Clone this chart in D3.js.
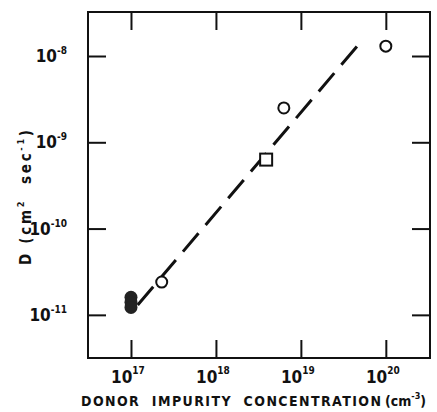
<!DOCTYPE html>
<html>
<head>
<meta charset="utf-8">
<script src="https://cdn.jsdelivr.net/npm/d3@7"></script>
<style>
  body { margin: 0; background: #fff; }
  svg { display: block; }
  text { font-family: "DejaVu Sans Condensed", "Liberation Sans", sans-serif; font-weight: bold; fill: #111; }
</style>
</head>
<body>
<div id="chart"></div>
<script>
// Data (log-log axes).
const xTickExps = [17, 18, 19, 20];
const yTickExps = [-8, -9, -10, -11];

const openCircles = [
  { n: 2.3e17, d: 2.4e-11 },
  { n: 6.3e18, d: 2.5e-9 },
  { n: 1.0e20, d: 1.3e-8 }
];
const filledCircles = [
  { n: 1.0e17, d: 1.6e-11 },
  { n: 1.0e17, d: 1.4e-11 },
  { n: 1.0e17, d: 1.22e-11 }
];
const squares = [
  { n: 3.9e18, d: 6.3e-10 }
];
// Dashed fit line end points.
const fitLine = [
  { n: 1.2e17, d: 1.3e-11 },
  { n: 5.1e19, d: 1.47e-8 }
];

const W = 437, H = 412;
const margin = { left: 88, top: 12, right: 7, bottom: 54 };
const iw = W - margin.left - margin.right;
const ih = H - margin.top - margin.bottom;

const svg = d3.select("#chart").append("svg")
  .attr("width", W).attr("height", H);

const g = svg.append("g")
  .attr("transform", "translate(" + margin.left + "," + margin.top + ")");

const x = d3.scaleLog().domain([Math.pow(10, 16.494), Math.pow(10, 20.52)]).range([0, iw]);
const y = d3.scaleLog().domain([Math.pow(10, -11.5), Math.pow(10, -7.49)]).range([ih, 0]);

const xTicks = xTickExps.map(e => Math.pow(10, e));
const yTicks = yTickExps.map(e => Math.pow(10, e));

// Inward ticks on all four sides.
const tick = 18;
function styleAxis(sel) {
  sel.select(".domain").remove();
  sel.selectAll(".tick line").attr("stroke", "#111").attr("stroke-width", 2);
  sel.selectAll(".tick text").remove();
}
g.append("g").attr("transform", "translate(0," + ih + ")")
  .call(d3.axisBottom(x).tickValues(xTicks).tickSize(-tick)).call(styleAxis);
g.append("g")
  .call(d3.axisTop(x).tickValues(xTicks).tickSize(-tick)).call(styleAxis);
g.append("g")
  .call(d3.axisLeft(y).tickValues(yTicks).tickSize(-tick)).call(styleAxis);
g.append("g").attr("transform", "translate(" + iw + ",0)")
  .call(d3.axisRight(y).tickValues(yTicks).tickSize(-tick)).call(styleAxis);

// Frame
g.append("rect")
  .attr("width", iw).attr("height", ih)
  .attr("fill", "none").attr("stroke", "#111").attr("stroke-width", 2);

// Tick labels with superscripts
g.selectAll(".xlab").data(xTickExps).enter().append("text")
  .attr("class", "xlab")
  .attr("x", d => x(Math.pow(10, d)) - 3)
  .attr("y", ih + 25)
  .attr("text-anchor", "middle")
  .style("font-size", "17px")
  .each(function(d) {
    const t = d3.select(this);
    t.append("tspan").text("10");
    t.append("tspan").attr("dy", -9).style("font-size", "10px").text(d);
  });

g.selectAll(".ylab").data(yTickExps).enter().append("text")
  .attr("class", "ylab")
  .attr("x", -21)
  .attr("y", d => y(Math.pow(10, d)) + 6)
  .attr("text-anchor", "end")
  .style("font-size", "17px")
  .each(function(d) {
    const t = d3.select(this);
    t.append("tspan").text("10");
    t.append("tspan").attr("dy", -8).style("font-size", "10px").text("-" + Math.abs(d));
  });

// Dashed fit line
const line = d3.line().x(d => x(d.n)).y(d => y(d.d));
g.append("path")
  .datum(fitLine)
  .attr("d", line)
  .attr("fill", "none")
  .attr("stroke", "#111")
  .attr("stroke-width", 3)
  .attr("stroke-dasharray", "24,11");

// Points
g.selectAll(".open").data(openCircles).enter().append("circle")
  .attr("cx", d => x(d.n)).attr("cy", d => y(d.d)).attr("r", 5.5)
  .attr("fill", "#fff").attr("stroke", "#111").attr("stroke-width", 2);

g.selectAll(".filled").data(filledCircles).enter().append("circle")
  .attr("cx", d => x(d.n)).attr("cy", d => y(d.d)).attr("r", 6.5)
  .attr("fill", "#222");

g.selectAll(".sq").data(squares).enter().append("rect")
  .attr("x", d => x(d.n) - 6).attr("y", d => y(d.d) - 6)
  .attr("width", 12).attr("height", 12)
  .attr("fill", "#fff").attr("stroke", "#111").attr("stroke-width", 2);

// Y axis title, stretched to the span seen in the reference
const yt = svg.append("text")
  .attr("transform", "translate(31,265) rotate(-90)")
  .attr("xml:space", "preserve")
  .attr("textLength", 135)
  .attr("lengthAdjust", "spacing")
  .style("font-size", "15px");
yt.append("tspan").text("D (cm");
yt.append("tspan").attr("dy", -7).style("font-size", "9px").text("2");
yt.append("tspan").attr("dy", 7).text("  sec");
yt.append("tspan").attr("dy", -7).style("font-size", "9px").text("-1");
yt.append("tspan").attr("dy", 7).text(")");

// X axis title
svg.append("text")
  .attr("x", 81).attr("y", 406)
  .attr("xml:space", "preserve")
  .attr("textLength", 300)
  .attr("lengthAdjust", "spacing")
  .style("font-size", "14px")
  .text("DONOR  IMPURITY  CONCENTRATION");

const xu = svg.append("text")
  .attr("x", 385).attr("y", 406)
  .style("font-size", "14px");
xu.append("tspan").text("(cm");
xu.append("tspan").attr("dy", -7).style("font-size", "9px").text("-3");
xu.append("tspan").attr("dy", 7).text(")");
</script>
</body>
</html>
